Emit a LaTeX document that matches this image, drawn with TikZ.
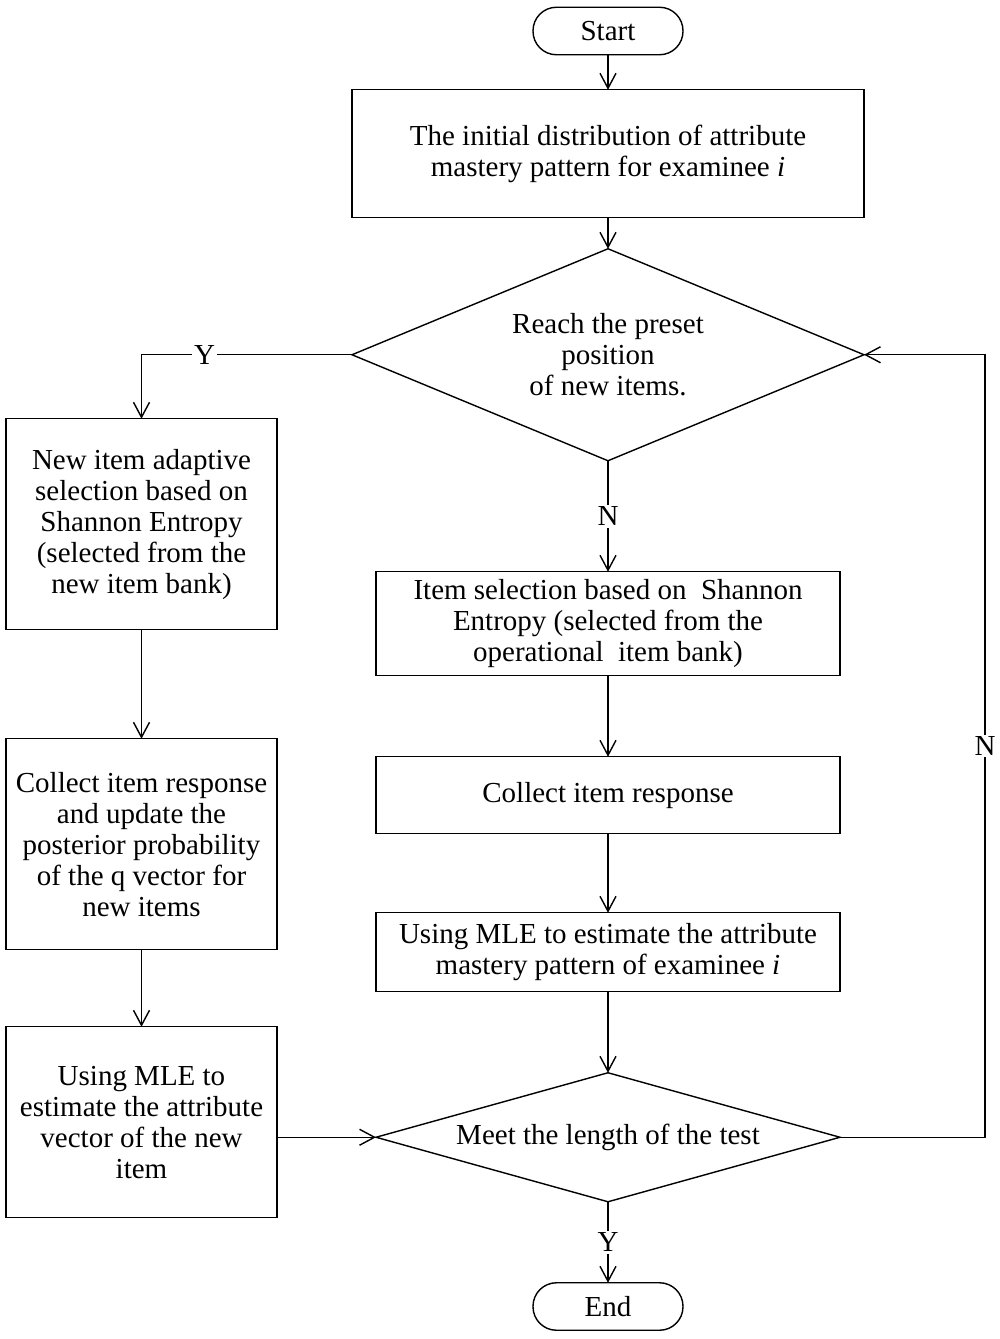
\documentclass[tikz,border=0pt]{standalone}
\usepackage{fontspec}
\setmainfont{Liberation Serif}
\usetikzlibrary{arrows.meta, shapes.geometric, positioning, calc}

\begin{document}
\begin{tikzpicture}[font=\fontsize{16.5}{17.6}\selectfont, line width=0.8pt,
    box/.style={draw,align=center,inner sep=2pt,outer sep=0pt},
    term/.style={draw,rounded corners=0.47cm,minimum width=3cm,minimum height=0.95cm,outer sep=0pt},
    dec/.style={draw,diamond,align=center,inner sep=0pt,outer sep=0pt},
    arr/.style={-{Straight Barb[length=0.3cm,width=0.32cm]}},
    lab/.style={fill=white,inner sep=1pt}]
      \useasboundingbox (0,0) rectangle (20,-26.78);
      % main column
      \node[term] (start) at (12.16,-0.62) {Start};
      \node[box,minimum width=10.24cm,minimum height=2.56cm,below=0.7cm of start] (init) {The initial distribution of attribute\\ mastery pattern for examinee \textit{i}};
      \node[dec,aspect=2.4,minimum width=10.24cm,minimum height=4.24cm,below=0.62cm of init] (reach) {Reach the preset\\ position\\ of new items.};
      \node[box,minimum width=9.28cm,minimum height=2.08cm,below=2.22cm of reach] (sel) {Item selection based on\ \ Shannon\\ Entropy (selected from the\\ operational\ \ item bank)};
      \node[box,minimum width=9.28cm,minimum height=1.54cm,below=1.62cm of sel] (collect) {Collect item response};
      \node[box,minimum width=9.28cm,minimum height=1.58cm,below=1.58cm of collect] (mle) {Using MLE to estimate the attribute\\ mastery pattern of examinee \textit{i}};
      \node[dec,aspect=3.6,minimum width=9.28cm,minimum height=2.58cm,below=1.62cm of mle] (meet) {Meet the length of the test};
      \node[term,below=1.62cm of meet] (end) {End};
      % new item column
      \node[box,minimum width=5.42cm,minimum height=4.22cm,below left=1.28cm and 1.5cm of reach.west] (newsel) {New item adaptive\\ selection based on\\ Shannon Entropy\\ (selected from the\\ new item bank)};
      \node[box,minimum width=5.42cm,minimum height=4.22cm,below=2.18cm of newsel] (update) {Collect item response\\ and update the\\ posterior probability\\ of the q vector for\\ new items};
      \node[box,minimum width=5.42cm,minimum height=3.82cm,below=1.54cm of update] (newmle) {Using MLE to\\ estimate the attribute\\ vector of the new\\ item};
      % arrows
      \draw[arr] (start) -- (init);
      \draw[arr] (init) -- (reach);
      \draw[arr] (reach.west) -| node[lab,pos=0.35]{Y} (newsel.north);
      \draw[arr] (reach) -- node[lab]{N} (sel);
      \draw[arr] (sel) -- (collect);
      \draw[arr] (collect) -- (mle);
      \draw[arr] (mle) -- (meet);
      \draw[arr] (newsel) -- (update);
      \draw[arr] (update) -- (newmle);
      \draw[arr] (newmle.east |- meet.west) -- (meet.west);
      \draw[arr] (meet.east) -- ++(2.9,0) |- node[lab,pos=0.25]{N} (reach.east);
      \draw[arr] (meet) -- node[lab]{Y} (end);
    \end{tikzpicture}
\end{document}
